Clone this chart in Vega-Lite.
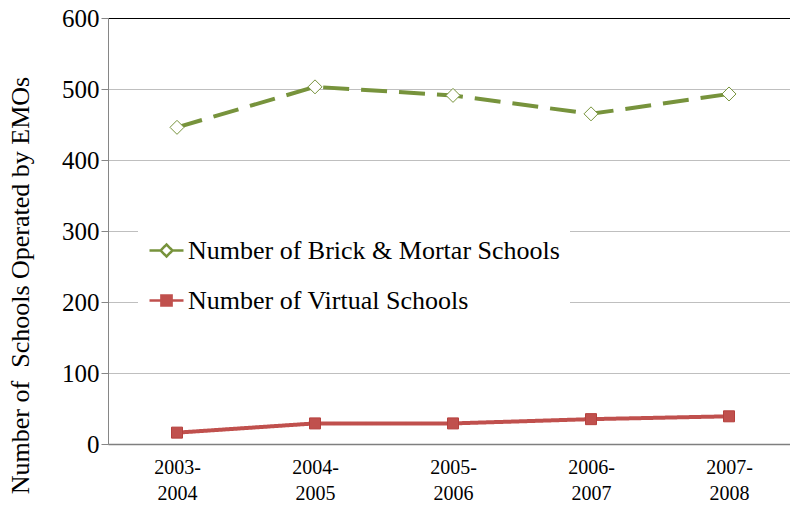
{
  "$schema": "https://vega.github.io/schema/vega-lite/v6.json",
  "width": 690,
  "height": 426,
  "autosize": {"type": "none"},
  "padding": {"left": 108, "top": 18, "right": 0, "bottom": 69},
  "background": "white",
  "data": {
    "values": [
      {"year": "2003-2004", "series": "Number of Brick & Mortar Schools", "value": 446},
      {"year": "2004-2005", "series": "Number of Brick & Mortar Schools", "value": 503},
      {"year": "2005-2006", "series": "Number of Brick & Mortar Schools", "value": 491},
      {"year": "2006-2007", "series": "Number of Brick & Mortar Schools", "value": 465},
      {"year": "2007-2008", "series": "Number of Brick & Mortar Schools", "value": 493},
      {"year": "2003-2004", "series": "Number of Virtual Schools", "value": 16},
      {"year": "2004-2005", "series": "Number of Virtual Schools", "value": 29},
      {"year": "2005-2006", "series": "Number of Virtual Schools", "value": 29},
      {"year": "2006-2007", "series": "Number of Virtual Schools", "value": 35},
      {"year": "2007-2008", "series": "Number of Virtual Schools", "value": 39}
    ]
  },
  "encoding": {
    "x": {
      "field": "year",
      "type": "ordinal",
      "scale": {"type": "point", "padding": 0.5},
      "axis": {
        "title": null,
        "labelAngle": 0,
        "ticks": false,
        "domainColor": "#7f7f7f",
        "domainWidth": 1.5,
        "labelFont": "Liberation Serif",
        "labelFontSize": 20,
        "labelColor": "black",
        "labelPadding": 13,
        "labelLineHeight": 26,
        "labelExpr": "[slice(datum.label, 0, 5), slice(datum.label, 5)]"
      }
    },
    "y": {
      "field": "value",
      "type": "quantitative",
      "scale": {"domain": [0, 600], "nice": false},
      "axis": {
        "values": [0, 100, 200, 300, 400, 500, 600],
        "title": "Number of \u00a0Schools Operated by EMOs",
        "titleFont": "Liberation Serif",
        "titleFontSize": 26,
        "titleFontWeight": "normal",
        "titleColor": "black",
        "titleAngle": -90,
        "titleAlign": "center",
        "titleBaseline": "middle",
        "titleX": -88,
        "titleY": 267,
        "labelFont": "Liberation Serif",
        "labelFontSize": 25,
        "labelColor": "black",
        "labelPadding": 2,
        "tickSize": 7,
        "tickColor": "#868686",
        "domainColor": "#868686",
        "gridColor": {"condition": {"test": "datum.value === 600", "value": "#000000"}, "value": "#bfbfbf"},
        "gridWidth": 1
      }
    }
  },
  "layer": [
    {
      "mark": {"type": "line", "strokeWidth": 4},
      "encoding": {
        "color": {
          "field": "series",
          "type": "nominal",
          "scale": {
            "domain": ["Number of Brick & Mortar Schools", "Number of Virtual Schools"],
            "range": ["#77933c", "#c0504d"]
          },
          "legend": {
            "orient": "none",
            "legendX": 30,
            "legendY": 204,
            "title": null,
            "fillColor": "white",
            "padding": 10,
            "rowPadding": 18,
            "symbolSize": 1156,
            "symbolStrokeWidth": 2.5,
            "labelFont": "Liberation Serif",
            "labelFontSize": 26,
            "labelColor": "black",
            "labelOffset": 3,
            "labelLimit": 0,
            "encode": {
              "symbols": {
                "update": {
                  "shape": {"signal": "datum.value === 'Number of Virtual Schools' ? 'M-1,0H-0.3M0.3,0H1M-0.3,-0.3H0.3V0.3H-0.3Z' : 'M-1,0H-0.35M0.35,0H1M-0.35,0L0,-0.35L0.35,0L0,0.35Z'"},
                  "fill": {"signal": "datum.value === 'Number of Virtual Schools' ? '#c0504d' : 'white'"},
                  "fillOpacity": {"value": 1},
                  "strokeDash": {"value": [1, 0]}
                }
              }
            }
          }
        },
        "strokeDash": {
          "condition": {"test": "datum.series === 'Number of Brick & Mortar Schools'", "value": [26, 12]},
          "value": [1, 0]
        }
      }
    },
    {
      "mark": {"type": "point", "filled": true, "opacity": 1, "strokeWidth": 1},
      "encoding": {
        "shape": {
          "condition": {"test": "datum.series === 'Number of Virtual Schools'", "value": "square"},
          "value": "diamond"
        },
        "fill": {
          "condition": {"test": "datum.series === 'Number of Virtual Schools'", "value": "#c0504d"},
          "value": "#ffffff"
        },
        "stroke": {
          "condition": {"test": "datum.series === 'Number of Virtual Schools'", "value": "#b5403d"},
          "value": "#77933c"
        },
        "size": {
          "condition": {"test": "datum.series === 'Number of Virtual Schools'", "value": 121},
          "value": 196
        }
      }
    }
  ],
  "config": {
    "view": {"stroke": null}
  }
}
